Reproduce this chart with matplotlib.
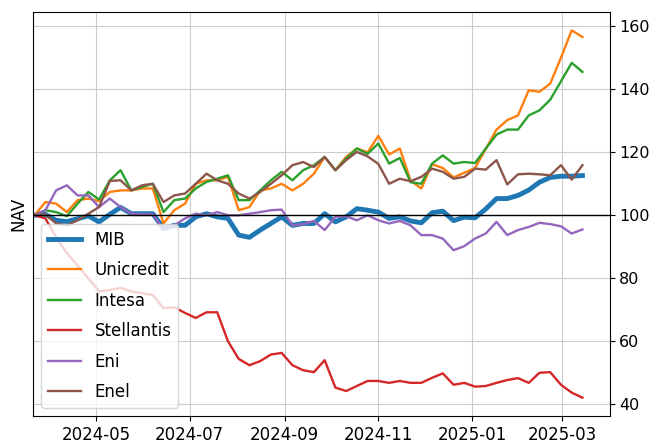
import matplotlib
matplotlib.use("Agg")
import matplotlib.pyplot as plt
import pandas as pd

# weekly NAV, rebased to 100
dates = pd.date_range("2024-03-22", periods=52, freq="W-FRI")

mib = [100, 100.3, 98.4, 98.0, 98.9, 99.8, 97.9, 100.3, 102.5, 100.5,
       100.5, 100.5, 95.8, 96.8, 96.8, 99.5, 100.5, 99.5, 99.0, 93.7,
       93.0, 95.3, 97.4, 99.5, 96.8, 97.4, 97.4, 100.5, 97.9, 99.5,
       102.1, 101.6, 101.0, 99.0, 99.5, 98.2, 97.6, 100.8, 101.3, 98.3,
       99.4, 99.2, 102.0, 105.3, 105.3, 106.3, 108.0, 110.5, 112.0, 112.4,
       112.4, 112.6]
unicredit = [100, 104.2, 103.7, 101.0, 104.8, 105.3, 104.5, 107.4, 107.9, 107.9,
             108.5, 108.5, 97.4, 101.6, 103.7, 110.0, 111.1, 111.1, 112.2, 101.6,
             102.6, 107.9, 108.5, 110.0, 107.9, 110.0, 113.2, 118.5, 114.3, 118.5,
             121.2, 120.0, 125.2, 119.3, 121.2, 111.0, 108.5, 116.2, 115.0, 112.0,
             113.5, 115.0, 121.0, 127.2, 130.2, 131.7, 139.7, 139.2, 141.8, 150.0,
             158.7, 156.6]
intesa = [100, 101.6, 101.0, 99.7, 103.7, 107.4, 105.0, 111.1, 114.3, 107.9,
          109.0, 110.0, 101.0, 104.8, 105.3, 108.5, 110.6, 111.6, 112.7, 104.8,
          104.8, 107.9, 111.1, 113.8, 111.1, 114.3, 115.9, 118.5, 114.3, 118.0,
          121.2, 119.5, 122.8, 116.4, 118.2, 110.5, 110.0, 116.4, 119.0, 116.4,
          116.9, 116.6, 121.2, 125.6, 127.2, 127.2, 131.7, 133.3, 136.7, 142.5,
          148.4, 145.5]
stellantis = [100, 99.0, 93.0, 88.0, 84.0, 80.0, 75.8, 76.3, 77.0, 75.8,
              75.3, 74.7, 70.5, 70.8, 69.0, 67.4, 69.2, 69.2, 60.0, 54.4,
              52.4, 53.7, 55.8, 56.3, 52.4, 50.8, 50.2, 54.0, 45.3, 44.2,
              45.8, 47.4, 47.4, 46.8, 47.4, 46.8, 46.8, 48.4, 49.8, 46.2,
              46.8, 45.6, 45.8, 46.8, 47.7, 48.3, 46.8, 50.0, 50.2, 46.2,
              43.7, 42.1]
eni = [100, 101.6, 107.9, 109.5, 106.3, 106.3, 102.6, 105.3, 102.6, 100.5,
       100.3, 100.3, 95.5, 96.8, 99.0, 100.5, 100.0, 101.0, 100.0, 100.0,
       100.5, 101.0, 101.6, 101.8, 96.8, 97.2, 98.2, 95.3, 99.5, 99.7,
       98.4, 100.0, 98.4, 97.4, 98.2, 96.8, 93.7, 93.7, 92.6, 88.9,
       90.2, 92.6, 94.2, 97.9, 93.7, 95.3, 96.3, 97.6, 97.2, 96.5,
       94.2, 95.5]
enel = [100, 100.3, 97.4, 96.8, 98.4, 100.5, 102.6, 110.9, 111.1, 107.9,
        109.5, 110.0, 104.2, 106.3, 106.9, 110.0, 113.2, 111.1, 110.0, 106.9,
        105.3, 107.4, 110.0, 112.7, 115.9, 116.9, 115.3, 118.5, 114.3, 117.5,
        120.1, 118.7, 116.3, 110.0, 111.6, 110.8, 112.2, 114.8, 113.8, 111.6,
        112.2, 114.8, 114.5, 117.5, 109.8, 113.0, 113.2, 113.0, 112.7, 115.9,
        111.3, 115.9]

series = {"Unicredit": unicredit, "Intesa": intesa, "Stellantis": stellantis,
          "Eni": eni, "Enel": enel}

fig = plt.figure(figsize=(6.49, 4.44), dpi=100)
ax = fig.add_axes([0.051, 0.063, 0.889, 0.910])

ax.plot(dates, mib, lw=3.5, label="MIB")
for name, vals in series.items():
    ax.plot(dates, vals, lw=1.7, label=name)

ax.axhline(100, color="black", lw=1)
ax.grid(True, color="#cccccc")
ax.yaxis.tick_right()
ax.set_ylabel("NAV", fontsize=12)
ax.tick_params(axis="x", labelsize=12)
ax.tick_params(axis="y", labelsize=11.5, pad=3)
ax.set_xlim(dates[0] - pd.Timedelta(days=1), pd.Timestamp("2025-04-01"))
ax.legend(loc="lower left", fontsize=12, labelspacing=0.75)

fig.savefig("out.png", dpi=100)
